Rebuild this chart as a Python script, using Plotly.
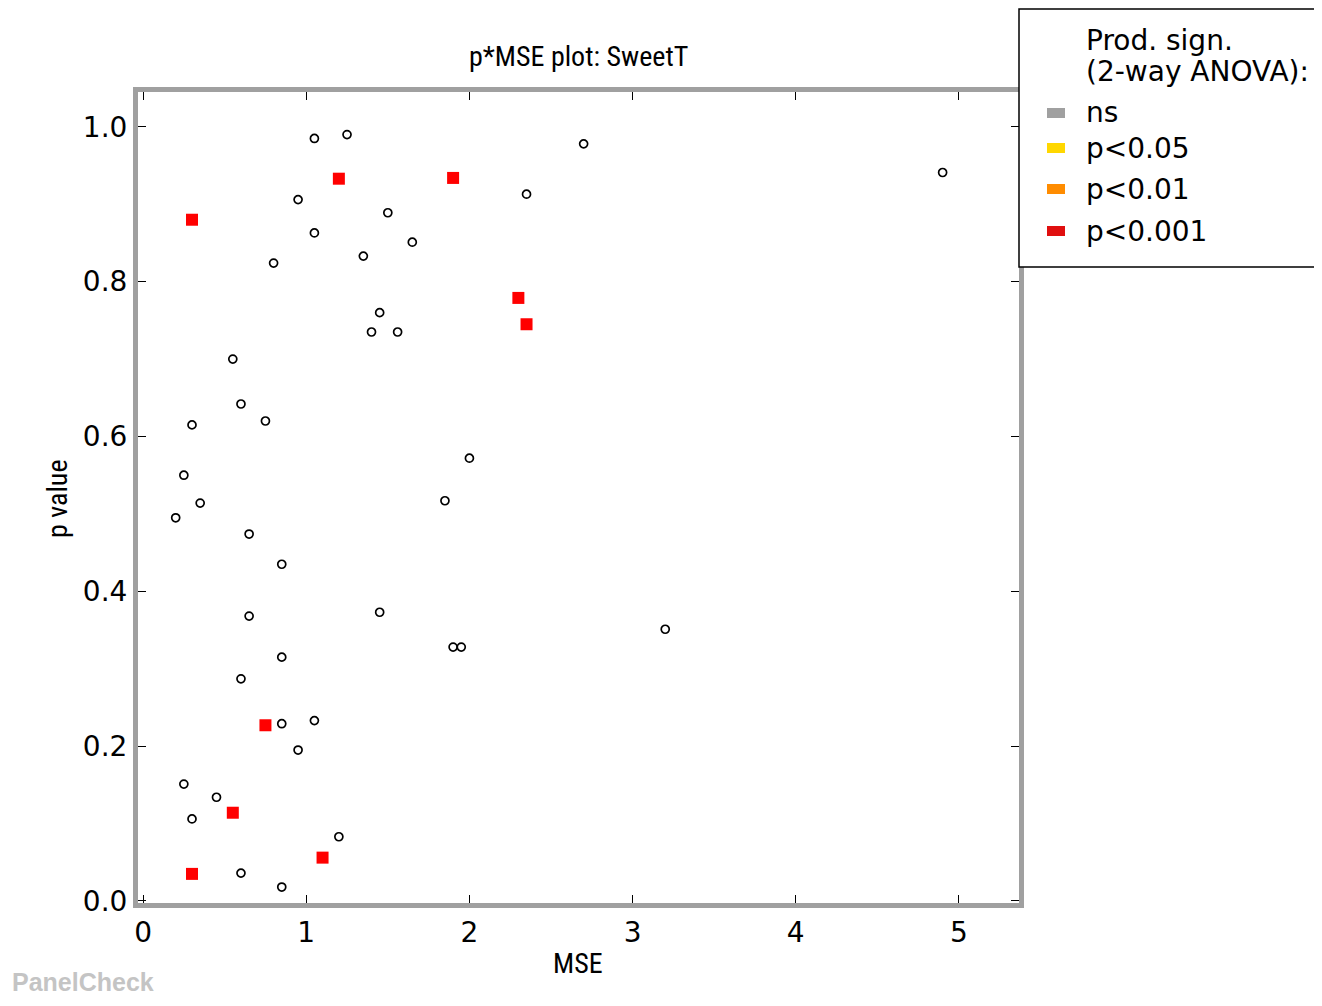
import plotly.graph_objects as go

# ---- data ----
ns_mse = [1.05, 1.25, 2.70, 4.90, 0.95, 1.50, 2.35, 1.05, 1.65, 0.80, 1.35, 1.45, 1.40, 1.56,
          0.55, 0.60, 0.30, 0.75, 0.25, 0.35, 0.20, 2.00, 1.85, 0.65, 0.85, 1.45, 0.65, 3.20,
          1.90, 1.95, 0.85, 0.60, 0.85, 1.05, 0.95, 0.25, 0.45, 0.30, 1.20, 0.60, 0.85]
ns_p = [0.985, 0.990, 0.978, 0.941, 0.906, 0.889, 0.913, 0.863, 0.851, 0.824, 0.833, 0.760, 0.735, 0.735,
        0.700, 0.642, 0.615, 0.620, 0.550, 0.514, 0.495, 0.572, 0.517, 0.474, 0.435, 0.373, 0.368, 0.351,
        0.328, 0.328, 0.315, 0.287, 0.229, 0.233, 0.195, 0.151, 0.134, 0.106, 0.083, 0.036, 0.018]
sig_mse = [0.30, 1.20, 1.90, 2.30, 2.35, 0.75, 0.55, 1.10, 0.30]
sig_p = [0.880, 0.933, 0.934, 0.779, 0.745, 0.227, 0.114, 0.056, 0.035]

x_ticks = [0, 1, 2, 3, 4, 5]
y_ticks = [0.0, 0.2, 0.4, 0.6, 0.8, 1.0]
y_tick_labels = ["0.0", "0.2", "0.4", "0.6", "0.8", "1.0"]

legend_labels = ["ns", "p<0.05", "p<0.01", "p<0.001"]
legend_colors = ["#a0a0a0", "#ffd700", "#ff8c00", "#e00f0f"]

title_text = "p*MSE plot: SweetT"
legend_title = ["Prod. sign.", "(2-way ANOVA):"]

# ---- layout geometry (page pixels; the page body has an 8px margin) ----
OFF = 8
W, H = 1322 - 2 * OFF, 1006 - 2 * OFF
L, R, T, B = 138 - OFF, 1019 - OFF, 92 - OFF, 903 - OFF
pw, ph = R - L, B - T


def px(xp):
    return (xp - OFF - L) / pw


def py(yp):
    return (B - (yp - OFF)) / ph


fig = go.Figure()
fig.add_trace(go.Scatter(
    x=ns_mse, y=ns_p, mode="markers", showlegend=False,
    marker=dict(symbol="circle-open", size=8, color="black", line=dict(width=1.7, color="black")),
))
fig.add_trace(go.Scatter(
    x=sig_mse, y=sig_p, mode="markers", showlegend=False,
    marker=dict(symbol="square", size=12, color="#ff0000", line=dict(width=0)),
))

tickfont = dict(family="DejaVu Sans", size=28, color="black")
frame_color = "#a0a0a0"

fig.update_xaxes(
    range=[-0.031, 5.368], tickvals=x_ticks, ticktext=[str(v) for v in x_ticks],
    ticks="inside", ticklen=8, tickwidth=1, tickcolor="black",
    showline=True, linewidth=5, linecolor=frame_color, mirror="ticks",
    showgrid=False, zeroline=False, tickfont=tickfont,
)
fig.update_yaxes(
    range=[-0.0026, 1.045], tickvals=y_ticks, ticktext=y_tick_labels,
    ticks="inside", ticklen=8, tickwidth=1, tickcolor="black",
    showline=True, linewidth=5, linecolor=frame_color, mirror="ticks",
    showgrid=False, zeroline=False, tickfont=tickfont,
)

shapes = []
annotations = []

# legend box
shapes.append(dict(type="rect", xref="paper", yref="paper",
                   x0=px(1019), x1=px(1340), y0=py(267), y1=py(9),
                   line=dict(color="black", width=1.5), fillcolor="white", layer="above"))
legend_font = dict(family="DejaVu Sans", size=28, color="black")
annotations.append(dict(xref="paper", yref="paper", x=px(1084), y=py(40), text=legend_title[0],
                        showarrow=False, xanchor="left", yanchor="middle", font=legend_font))
annotations.append(dict(xref="paper", yref="paper", x=px(1084), y=py(72), text=legend_title[1],
                        showarrow=False, xanchor="left", yanchor="middle", font=legend_font))
row_y = [113, 148, 189, 231]
for lab, col, yy in zip(legend_labels, legend_colors, row_y):
    shapes.append(dict(type="rect", xref="paper", yref="paper",
                       x0=px(1047), x1=px(1065), y0=py(yy + 5), y1=py(yy - 5),
                       line=dict(width=0), fillcolor=col, layer="above"))
    annotations.append(dict(xref="paper", yref="paper", x=px(1084), y=py(yy), text=lab,
                            showarrow=False, xanchor="left", yanchor="middle", font=legend_font))

narrow = "Liberation Sans Narrow, Roboto Condensed, Liberation Sans, Arial"
annotations.append(dict(xref="paper", yref="paper", x=px(578), y=py(57), text=title_text,
                        showarrow=False, xanchor="center", yanchor="middle",
                        font=dict(family=narrow, size=28, color="black")))
annotations.append(dict(xref="paper", yref="paper", x=px(578), y=py(963), text="MSE",
                        showarrow=False, xanchor="center", yanchor="middle",
                        font=dict(family=narrow, size=28, color="black")))
annotations.append(dict(xref="paper", yref="paper", x=px(57), y=py(499), text="p value",
                        showarrow=False, xanchor="center", yanchor="middle", textangle=-90,
                        font=dict(family=narrow, size=28, color="black")))
annotations.append(dict(xref="paper", yref="paper", x=px(10), y=py(982), text="<b>PanelCheck</b>",
                        showarrow=False, xanchor="left", yanchor="middle",
                        font=dict(family="Liberation Sans, Arial", size=25, color="#c4c4c4")))

fig.update_layout(
    width=W, height=H,
    margin=dict(l=L, r=W - R, t=T, b=H - B, pad=0),
    paper_bgcolor="white", plot_bgcolor="white",
    shapes=shapes, annotations=annotations, showlegend=False,
)

fig.write_html("out.html")
